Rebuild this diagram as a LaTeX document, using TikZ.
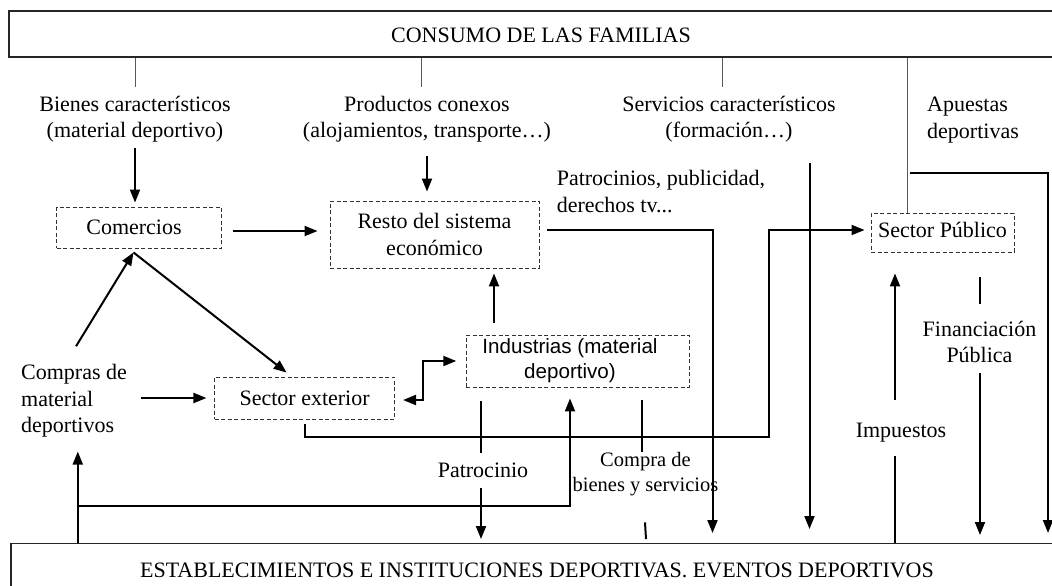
\documentclass[tikz,border=0pt]{standalone}
\usepackage{fontspec}
\setmainfont{Liberation Serif}
\newfontfamily\sansf{Liberation Sans}
\usetikzlibrary{arrows.meta,calc}
\begin{document}
\begin{tikzpicture}[x=1pt,y=-1pt,
  lab/.style={font=\fontsize{22}{26.5}\selectfont, inner sep=0pt},
  labc/.style={lab, align=center, anchor=base},
  labl/.style={lab, align=left, anchor=base west},
  dbox/.style={draw=black!80, dash pattern=on 4pt off 2.5pt, line width=0.9pt, inner sep=0pt, font=\fontsize{22}{26.5}\selectfont, align=center},
  bigbox/.style={draw=black!85, line width=1.2pt, inner sep=0pt, font=\fontsize{22}{26.5}\selectfont},
  flow/.style={line width=2pt},
  arr/.style={flow, -{Triangle[length=13pt,width=10pt]}},
  darr/.style={flow, {Triangle[length=13pt,width=10pt]}-{Triangle[length=13pt,width=10pt]}},
  thinl/.style={draw=black!65, line width=1pt}]

\useasboundingbox (0,0) rectangle (1052,586);
\clip (0,0) rectangle (1052,586);

% frames
\node[bigbox, minimum width=1064pt, minimum height=46pt, text height=18pt] (consumo) at (541,34) {CONSUMO DE LAS FAMILIAS};
\node[bigbox, anchor=north, minimum width=1052pt, inner ysep=19.4pt] (bot) at (537,543) {ESTABLECIMIENTOS E INSTITUCIONES DEPORTIVAS. EVENTOS DEPORTIVOS};

% labels (anchor base = baseline of the last line)
\node[labc] (bienes) at (135,137.7) {Bienes característicos\\(material deportivo)};
\node[labc] (prod) at (427,137.7) {Productos conexos\\(alojamientos, transporte…)};
\node[labc] (serv) at (729,137.7) {Servicios característicos\\(formación…)};
\node[labl] (apu) at (927,138) {Apuestas\\deportivas};
\node[labl] (patro) at (556.6,212) {Patrocinios, publicidad,\\derechos tv...};
\node[labl] (comp) at (21,432.7) {Compras de\\material\\deportivos};
\node[labc] (pat) at (483,477) {Patrocinio};
\node[labc, font=\fontsize{20.5}{25}\selectfont] (compra) at (645.5,491.7) {Compra de\\bienes y servicios};
\node[labc] (imp) at (901,437) {Impuestos};
\node[labc] (fin) at (979.5,362.7) {Financiación\\Pública};

% dashed boxes
\node[dbox, minimum width=165pt, minimum height=41pt] (com) at (139,227.5) {Comercios\hspace*{10pt}};
\node[dbox, minimum width=209pt, minimum height=67pt] (resto) at (434.5,234.5) {Resto del sistema\\económico};
\node[dbox, minimum width=143pt, minimum height=39pt, text depth=6pt] (sp) at (942.5,232.5) {Sector Público};
\node[dbox, minimum width=180pt, minimum height=42pt] (sext) at (304.6,398) {Sector exterior};
\node[dbox, minimum width=223pt, minimum height=52pt, font=\sansf\fontsize{20.6}{25}\selectfont] (ind) at (577.5,361) {Industrias (material\hspace*{15pt}\\deportivo)\hspace*{15pt}};

% helper coordinates
\coordinate (cA) at (712.5,0);
\coordinate (serv0) at (809.5,163);
\coordinate (kx) at (769.4,437);
\coordinate (apu0) at (909.5,173);
\coordinate (cB) at (1048,0);
\coordinate (cI) at (895,0);
\coordinate (cF) at (980,0);
\coordinate (dj) at (422.7,0);
\coordinate (cR) at (494,0);
\coordinate (cP) at (481,0);
\coordinate (cC) at (642,0);
\coordinate (cL) at (77.8,0);
\coordinate (bj) at (77.8,506);
\coordinate (cU) at (570,0);
\coordinate (apex) at ($(com.south)+(-5.5,4)$);

% thin lines from the top frame
\draw[thinl] (consumo.south -| bienes.north) -- ++(0,29);
\draw[thinl] ($(consumo.south -| prod.north)+(-6,0)$) -- ++(0,29);
\draw[thinl] ($(consumo.south -| serv.north)+(-7,0)$) -- ++(0,29);
\draw[thinl] ($(consumo.south -| sp.north)+(-35,0)$) -- ($(sp.north)+(-35,0)$);

% flows
\draw[arr, shorten <=5.5pt, shorten >=4pt] (bienes.south) -- (bienes.south |- com.north);
\draw[arr, shorten <=13pt, shorten >=9pt] (prod.south) -- (prod.south |- resto.north);
\draw[arr, shorten <=10.6pt, shorten >=12pt] ($(com.east)+(0,3.5)$) -- ($(com.east -| resto.west)+(0,3.5)$);
\draw[arr, shorten <=8pt, shorten >=10pt] ($(resto.east)+(0,-4.5)$) -| (bot.north -| cA);
\draw[arr, shorten >=14pt] (serv0) -- (bot.north -| serv0);
\draw[arr, shorten <=5pt, shorten >=6pt] (sext.south) |- (kx) |- ($(sp.west)+(0,-2.5)$);
\draw[arr, shorten >=10pt] (apu0) -| (bot.north -| cB);
\draw[flow, shorten >=14pt] (bot.north -| cI) -- (imp.south -| cI);
\draw[arr, shorten <=22pt, shorten >=21pt] (imp.north -| cI) -- (sp.south -| cI);
\draw[flow, shorten <=25pt, shorten >=16.5pt] (sp.south -| cF) -- (fin.north -| cF);
\draw[arr, shorten <=9.5pt, shorten >=8pt] (fin.south -| cF) -- (bot.north -| cF);
\draw[arr] ($(comp.north)+(2,-18)$) -- (apex);
\draw[arr] (apex) -- ($(sext.north)+(-18,-4)$);
\draw[arr, shorten <=13.5pt, shorten >=7.7pt] (comp.east |- sext.west) -- (sext.west);
\draw[darr, shorten <=8pt, shorten >=9.3pt] ($(sext.east)+(0,2)$) -| (dj |- ind.west) -- (ind.west);
\draw[arr, shorten <=12pt, shorten >=5pt] (ind.north -| cR) -- (resto.south -| cR);
\draw[flow, shorten <=14pt, shorten >=9pt] (ind.south -| cP) -- (pat.north -| cP);
\draw[arr, shorten <=11pt, shorten >=4pt] (pat.south -| cP) -- (bot.north -| cP);
\draw[flow, shorten <=13pt] (ind.south -| cC) -- (compra.north -| cC);
\draw[flow] ($(compra.south)+(-0.5,26)$) -- ($(bot.north -| compra.south)+(0.5,-4)$);
\draw[arr, shorten >=14pt] (bot.north -| cL) -- (comp.south -| cL);
\draw[arr, shorten >=11pt] (bj) -| (ind.south -| cU);
\end{tikzpicture}
\end{document}
